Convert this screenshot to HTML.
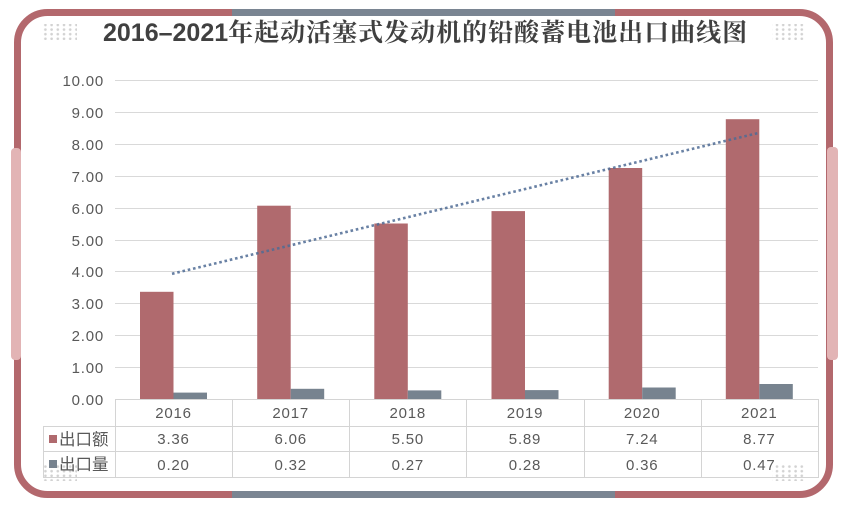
<!DOCTYPE html>
<html>
<head>
<meta charset="utf-8">
<style>
  html,body{margin:0;padding:0;background:#ffffff;}
  body{width:852px;height:520px;overflow:hidden;}
  svg{display:block;}
  .ax{font-family:"Liberation Sans","Noto Sans CJK SC",sans-serif;font-size:15px;fill:#595959;letter-spacing:0.8px;}
  .lg{font-family:"Liberation Sans","Noto Sans CJK SC",sans-serif;font-size:16.5px;fill:#595959;}
  .tl{font-family:"Liberation Sans",sans-serif;font-weight:700;}
  .tc{font-family:"Noto Serif CJK SC","Noto Serif CJK JP","Noto Sans CJK SC",serif;font-weight:700;letter-spacing:1px;}
</style>
</head>
<body>
<svg width="852" height="520" viewBox="0 0 852 520" xmlns="http://www.w3.org/2000/svg">
  <rect x="0" y="0" width="852" height="520" fill="#ffffff"/>

  <!-- frame -->
  <rect x="17.5" y="12.5" width="812" height="482" rx="30" ry="30" fill="none" stroke="#b3686d" stroke-width="7"/>
  <line x1="232" y1="12.5" x2="615" y2="12.5" stroke="#7a8592" stroke-width="7"/>
  <line x1="232" y1="494.5" x2="615" y2="494.5" stroke="#7a8592" stroke-width="7"/>
  <!-- side tabs -->
  <rect x="11" y="148" width="10" height="212" rx="4" fill="#e2b4b5"/>
  <rect x="827" y="147" width="11" height="213" rx="4" fill="#e2b4b5"/>

  <!-- dot grids -->
  <defs>
    <pattern id="dots" x="0" y="0" width="6.2" height="4.6" patternUnits="userSpaceOnUse">
      <circle cx="2" cy="2" r="1.3" fill="#d2d2d2"/>
    </pattern>
  </defs>
  <rect x="43" y="24" width="34" height="16" fill="url(#dots)"/>
  <rect x="772" y="24" width="34" height="16" fill="url(#dots)"/>
  <rect x="43" y="465" width="34" height="16" fill="url(#dots)"/>
  <rect x="772" y="465" width="34" height="16" fill="url(#dots)"/>

  <!-- title -->
  <text x="103" y="41" fill="#404040" font-size="25"><tspan class="tl">2016–2021</tspan><tspan class="tc">年起动活塞式发动机的铅酸蓄电池出口曲线图</tspan></text>

  <!-- gridlines -->
  <g stroke="#d9d9d9" stroke-width="1">
    <line x1="115" y1="80.5" x2="818" y2="80.5"/>
    <line x1="115" y1="112.5" x2="818" y2="112.5"/>
    <line x1="115" y1="144.5" x2="818" y2="144.5"/>
    <line x1="115" y1="176.5" x2="818" y2="176.5"/>
    <line x1="115" y1="208.5" x2="818" y2="208.5"/>
    <line x1="115" y1="240.5" x2="818" y2="240.5"/>
    <line x1="115" y1="271.5" x2="818" y2="271.5"/>
    <line x1="115" y1="303.5" x2="818" y2="303.5"/>
    <line x1="115" y1="335.5" x2="818" y2="335.5"/>
    <line x1="115" y1="367.5" x2="818" y2="367.5"/>
  </g>

  <!-- y-axis labels -->
  <g class="ax" text-anchor="end">
    <text x="104" y="86">10.00</text>
    <text x="104" y="118">9.00</text>
    <text x="104" y="150">8.00</text>
    <text x="104" y="182">7.00</text>
    <text x="104" y="214">6.00</text>
    <text x="104" y="246">5.00</text>
    <text x="104" y="277">4.00</text>
    <text x="104" y="309">3.00</text>
    <text x="104" y="341">2.00</text>
    <text x="104" y="373">1.00</text>
    <text x="104" y="405">0.00</text>
  </g>

  <!-- bars: red (出口额) -->
  <g fill="#b06a6e">
    <rect x="140" y="291.8" width="33.5" height="107.2"/>
    <rect x="257.2" y="205.7" width="33.5" height="193.3"/>
    <rect x="374.3" y="223.5" width="33.5" height="175.5"/>
    <rect x="491.5" y="211.1" width="33.5" height="187.9"/>
    <rect x="608.7" y="168.0" width="33.5" height="231.0"/>
    <rect x="725.8" y="119.2" width="33.5" height="279.8"/>
  </g>
  <!-- bars: gray (出口量) -->
  <g fill="#77838f">
    <rect x="173.5" y="392.6" width="33.5" height="6.4"/>
    <rect x="290.7" y="388.8" width="33.5" height="10.2"/>
    <rect x="407.8" y="390.4" width="33.5" height="8.6"/>
    <rect x="525.0" y="390.1" width="33.5" height="8.9"/>
    <rect x="642.2" y="387.5" width="33.5" height="11.5"/>
    <rect x="759.3" y="384.0" width="33.5" height="15.0"/>
  </g>

  <!-- trendline -->
  <line x1="172" y1="273.8" x2="760" y2="132.6" stroke="#4f6c95" stroke-width="2.6" stroke-dasharray="2.6 2.8" opacity="0.85"/>

  <!-- data table -->
  <g stroke="#d4d4d4" stroke-width="1" fill="none">
    <line x1="115" y1="399.5" x2="818" y2="399.5"/>
    <line x1="43" y1="426.5" x2="818" y2="426.5"/>
    <line x1="43" y1="451.5" x2="818" y2="451.5"/>
    <line x1="43" y1="477.5" x2="818" y2="477.5"/>
    <line x1="43.5" y1="426" x2="43.5" y2="478"/>
    <line x1="115.5" y1="399" x2="115.5" y2="478"/>
    <line x1="232.5" y1="399" x2="232.5" y2="478"/>
    <line x1="349.5" y1="399" x2="349.5" y2="478"/>
    <line x1="466.5" y1="399" x2="466.5" y2="478"/>
    <line x1="584.5" y1="399" x2="584.5" y2="478"/>
    <line x1="701.5" y1="399" x2="701.5" y2="478"/>
    <line x1="818.5" y1="399" x2="818.5" y2="478"/>
  </g>

  <g class="ax" text-anchor="middle">
    <text x="173.5" y="418">2016</text>
    <text x="290.7" y="418">2017</text>
    <text x="407.8" y="418">2018</text>
    <text x="525" y="418">2019</text>
    <text x="642.2" y="418">2020</text>
    <text x="759.3" y="418">2021</text>

    <text x="173.5" y="444">3.36</text>
    <text x="290.7" y="444">6.06</text>
    <text x="407.8" y="444">5.50</text>
    <text x="525" y="444">5.89</text>
    <text x="642.2" y="444">7.24</text>
    <text x="759.3" y="444">8.77</text>

    <text x="173.5" y="470">0.20</text>
    <text x="290.7" y="470">0.32</text>
    <text x="407.8" y="470">0.27</text>
    <text x="525" y="470">0.28</text>
    <text x="642.2" y="470">0.36</text>
    <text x="759.3" y="470">0.47</text>
  </g>

  <!-- legend keys -->
  <rect x="49" y="435" width="8" height="8" fill="#b06a6e"/>
  <rect x="49" y="460" width="8" height="8" fill="#77838f"/>
  <text class="lg" x="59" y="445">出口额</text>
  <text class="lg" x="59" y="470">出口量</text>
</svg>
</body>
</html>
